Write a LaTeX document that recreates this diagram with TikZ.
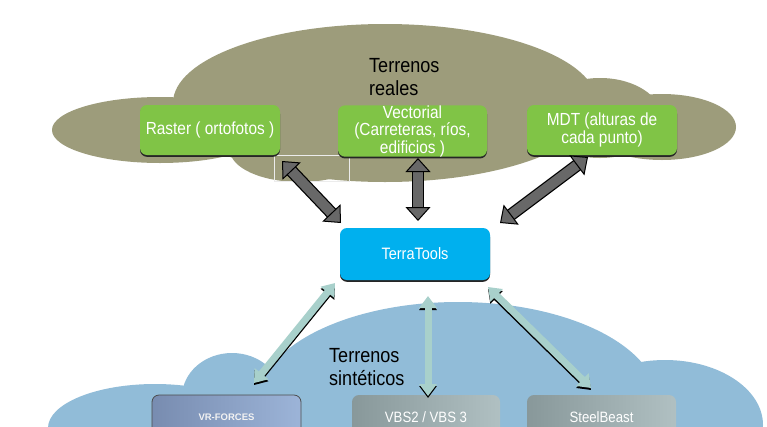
\documentclass[tikz,border=0pt]{standalone}
\usepackage{fontspec}
\setmainfont{Liberation Sans}
\newfontfamily\narrowfont[FakeStretch=0.88]{Liberation Sans}
\usetikzlibrary{arrows.meta}
\definecolor{cloudolive}{RGB}{157,156,123}
\definecolor{cloudblue}{RGB}{145,188,216}
\definecolor{boxgreen}{RGB}{128,196,70}
\definecolor{ttcyan}{RGB}{0,176,238}
\definecolor{arrowgray}{RGB}{104,104,104}
\definecolor{lightteal}{RGB}{168,208,203}
\definecolor{vrdark}{RGB}{120,140,176}
\definecolor{vrlight}{RGB}{156,180,216}
\definecolor{vbsdark}{RGB}{136,152,154}
\definecolor{vbslight}{RGB}{176,192,194}
\begin{document}
\begin{tikzpicture}[x=1pt,y=-1pt,
  cloudtext/.style={anchor=west, align=left, text=black, font=\narrowfont\fontsize{20.5}{23}\selectfont, inner sep=0pt},
  greenbox/.style={rectangle, rounded corners=7pt, fill=boxgreen, text=white,
    font=\narrowfont\fontsize{17.5}{17.5}\selectfont, align=center,
    minimum width=#1, minimum height=50pt, inner sep=0pt,
    preaction={fill=black!85, transform canvas={yshift=-1.8pt}}},
  ttbox/.style={rectangle, rounded corners=7pt, fill=ttcyan, text=white,
    font=\narrowfont\fontsize{16.5}{17}\selectfont,
    minimum width=150pt, minimum height=52pt, inner sep=0pt,
    preaction={fill=black!85, transform canvas={yshift=-1.8pt}}},
  simbox/.style={rectangle, rounded corners=7pt, text=white,
    minimum width=#1, minimum height=44pt, inner sep=0pt},
  darkarrow/.style={draw=arrowgray, line width=10pt,
    {Triangle[width=25pt,length=14pt,line width=1pt,fill=arrowgray,color=black]}-{Triangle[width=25pt,length=14pt,line width=1pt,fill=arrowgray,color=black]},
    preaction={draw=black, line width=12.5pt, -, shorten <=12pt, shorten >=12pt}},
  lightarrow/.style={draw=lightteal, line width=7pt,
    {Triangle[width=17pt,length=12pt,fill=lightteal,color=lightteal]}-{Triangle[width=17pt,length=12pt,fill=lightteal,color=lightteal]},
    preaction={draw=black, line width=7pt, transform canvas={yshift=-2pt},
    {Triangle[width=17pt,length=12pt,color=black]}-{Triangle[width=17pt,length=12pt,color=black]}}}
]
\useasboundingbox (0,0) rectangle (767,426);
\fill[white] (0,0) rectangle (767,426);
\begin{scope}
\clip (0,0) rectangle (767,426);
% top cloud
\fill[cloudolive] (385,103) ellipse [x radius=212, y radius=79];
\fill[cloudolive] (160,130) ellipse [x radius=108, y radius=33];
\fill[cloudolive] (252,112) ellipse [x radius=62, y radius=40];
\fill[cloudolive] (662,127) ellipse [x radius=74, y radius=33];
\fill[cloudolive] (600,118) ellipse [x radius=62, y radius=40];
\fill[cloudolive] (300,150) ellipse [x radius=70, y radius=32];
% bottom cloud
\fill[cloudblue] (458,402) ellipse [x radius=200, y radius=100];
\fill[cloudblue] (232,397) ellipse [x radius=50, y radius=44];
\fill[cloudblue] (155,428) ellipse [x radius=107, y radius=44];
\fill[cloudblue] (665,425) ellipse [x radius=98, y radius=65];
\end{scope}
% white frame
\draw[white!85!gray, line width=0.9pt] (274,155) rectangle (349,181);
% texts in clouds
\node[cloudtext] (treales) at (369,77) {Terrenos\\reales};
\node[cloudtext] (tsint) at (329,367) {Terrenos\\sintéticos};
% top boxes
\node[greenbox=140pt] (raster) at (210,130) {Raster ( ortofotos )};
\node[greenbox=149pt] (vect) at (412.5,131) {Vectorial\\(Carreteras, ríos,\\edificios )};
\node[greenbox=150pt] (mdt) at (602,130) {MDT (alturas de\\cada punto)};
% central box
\node[ttbox] (tt) at (415,254) {TerraTools};
% bottom boxes
\node[simbox=149pt, left color=vrdark, right color=vrlight, draw=black!70, line width=0.8pt,
  font=\bfseries\fontsize{9.5}{10}\selectfont, text=white!90!gray] (vrf) at (226.5,417) {VR-FORCES};
\node[simbox=148pt, left color=vbsdark, right color=vbslight,
  font=\narrowfont\fontsize{15}{17}\selectfont] (vbs) at (426,417) {VBS2 / VBS 3};
\node[simbox=149pt, left color=vbsdark, right color=vbslight,
  font=\narrowfont\fontsize{15}{17}\selectfont] (steel) at (601.5,417) {SteelBeast};
% arrow end points
\coordinate (a1s) at (282,161);
\coordinate (a1e) at (341,223);
\coordinate (a2s) at (418,158);
\coordinate (a2e) at (418,221);
\coordinate (a3s) at (588,157);
\coordinate (a3e) at (500,223);
\coordinate (b1s) at (335,283);
\coordinate (b1e) at (254,383);
\coordinate (b2s) at (428,296);
\coordinate (b2e) at (428,396);
\coordinate (b3s) at (488,287);
\coordinate (b3e) at (591,388);
\draw[darkarrow] (a1s) -- (a1e);
\draw[darkarrow] (a2s) -- (a2e);
\draw[darkarrow] (a3s) -- (a3e);
\draw[lightarrow] (b1s) -- (b1e);
\draw[lightarrow] (b2s) -- (b2e);
\draw[lightarrow] (b3s) -- (b3e);
\end{tikzpicture}
\end{document}
